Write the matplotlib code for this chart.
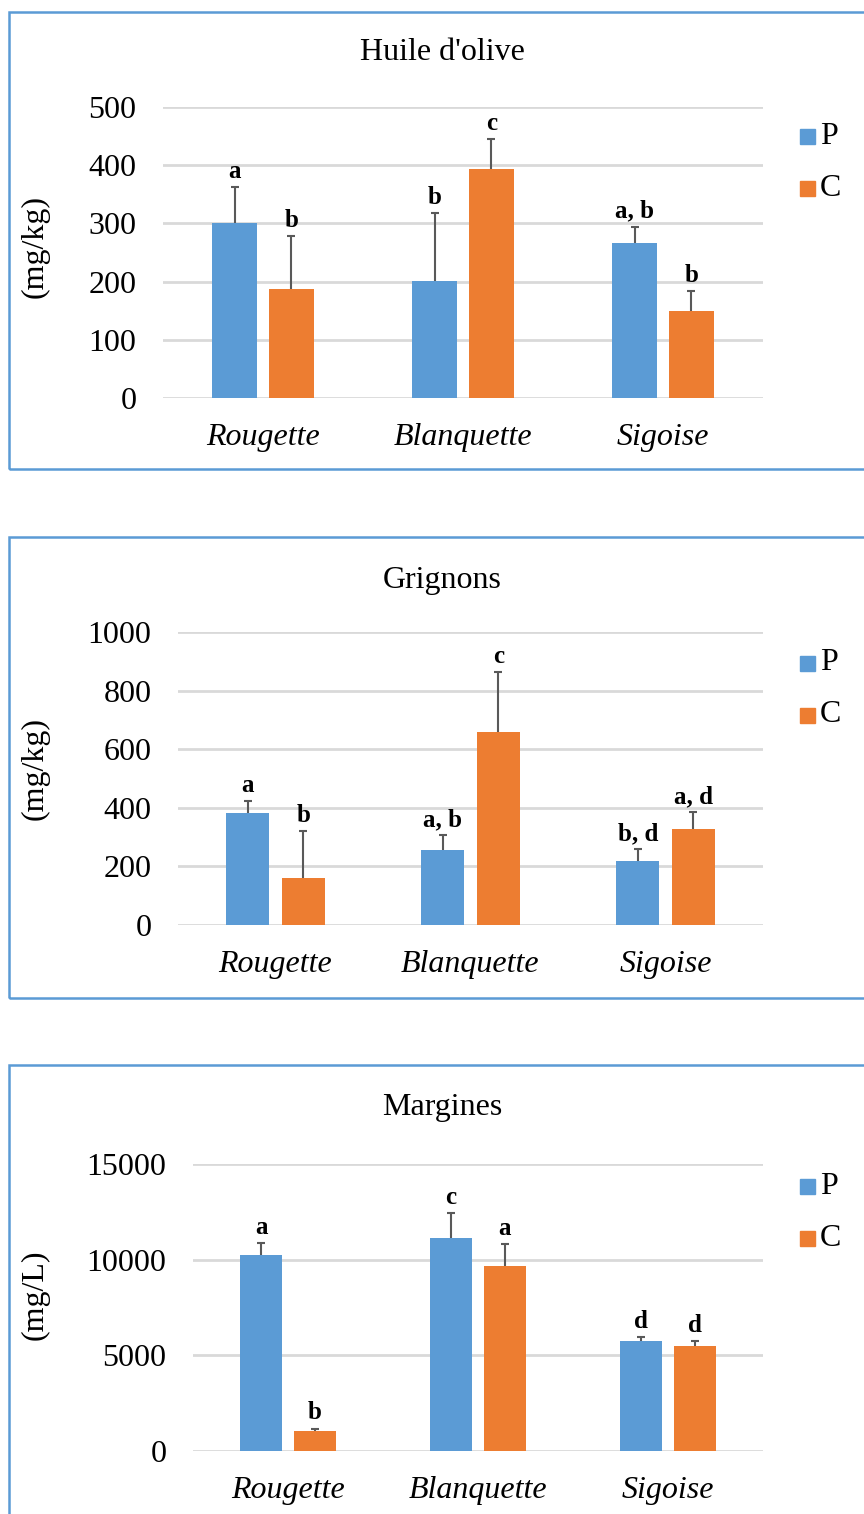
import matplotlib
matplotlib.use("Agg")
import matplotlib.pyplot as plt
from matplotlib.patches import Rectangle

W, H = 864, 1514

# Data
cultivars = ["Rougette", "Blanquette", "Sigoise"]
series = ["P", "C"]

huile_p = [300, 201, 266]
huile_c = [187, 394, 150]
huile_p_err = [62, 117, 28]
huile_c_err = [91, 51, 34]
huile_p_lab = ["a", "b", "a, b"]
huile_c_lab = ["b", "c", "b"]

grig_p = [382, 256, 218]
grig_c = [161, 658, 327]
grig_p_err = [42, 51, 40]
grig_c_err = [159, 206, 57]
grig_p_lab = ["a", "a, b", "b, d"]
grig_c_lab = ["b", "c", "a, d"]

marg_p = [10250, 11150, 5770]
marg_c = [1060, 9660, 5510]
marg_p_err = [630, 1300, 180]
marg_c_err = [110, 1170, 230]
marg_p_lab = ["a", "c", "d"]
marg_c_lab = ["b", "a", "d"]

# Style
BLUE = "#5B9BD5"
ORANGE = "#ED7D31"
GRID = "#D9D9D9"
ERR = "#595959"
FRAME = "#5B9BD5"
FS = 23

plt.rcParams["font.family"] = "Liberation Serif"

fig = plt.figure(figsize=(W / 100, H / 100), dpi=100)


def fx(x):
    return x / W


def fy(y):
    return 1 - y / H


def frame(top, bottom):
    fig.patches.append(Rectangle((fx(9), fy(bottom)), fx(900) - fx(9), fy(top) - fy(bottom),
                                 transform=fig.transFigure, fill=False,
                                 edgecolor=FRAME, linewidth=1.8, clip_on=False))


def errbars(ax, x, v, e):
    eb = ax.errorbar(x, v, yerr=[[0] * len(v), e], fmt="none", ecolor=ERR,
                     elinewidth=1.5, capsize=3, capthick=1.5, zorder=4)
    # only the upper cap, like the original
    eb.lines[1][0].set_visible(False)


def panel(left, top, bottom, ymax, step, p, c, pe, ce, pl, cl, title, ylabel,
          title_y, legend_y, ylab_y):
    ax = fig.add_axes([fx(left), fy(bottom), fx(763) - fx(left), fy(top) - fy(bottom)])
    xs = range(len(cultivars))
    off, w = 0.142, 0.222
    xp = [i - off for i in xs]
    xc = [i + off for i in xs]
    ax.bar(xp, p, width=w, color=BLUE, zorder=3)
    ax.bar(xc, c, width=w, color=ORANGE, zorder=3)
    errbars(ax, xp, p, pe)
    errbars(ax, xc, c, ce)
    for xi, v, e, t in list(zip(xp, p, pe, pl)) + list(zip(xc, c, ce, cl)):
        ax.annotate(t, (xi, v + e), xytext=(0, 3), textcoords="offset points",
                    ha="center", va="bottom", fontsize=18, fontweight="bold",
                    annotation_clip=False)
    ax.set_xlim(-0.5, 2.5)
    ax.set_ylim(0, ymax)
    ax.set_yticks(range(0, ymax + 1, step))
    ax.set_xticks(list(xs))
    ax.set_xticklabels(cultivars, fontsize=FS, style="italic")
    ax.tick_params(axis="y", labelsize=FS, length=0, pad=19)
    ax.tick_params(axis="x", length=0, pad=18)
    ax.yaxis.grid(True, color=GRID, linewidth=2, zorder=0)
    for s in ax.spines.values():
        s.set_visible(False)
    ax.set_axisbelow(True)

    fig.text(fx(442), fy(title_y), title, ha="center", va="center", fontsize=FS)
    fig.text(fx(35), fy(ylab_y), ylabel, ha="center", va="center", rotation=90,
             fontsize=FS)
    for k, (lab, col) in enumerate(zip(series, [BLUE, ORANGE])):
        yc = legend_y + k * 52
        fig.patches.append(Rectangle((fx(800), fy(yc + 8)), fx(15), 15 / H,
                                     transform=fig.transFigure, color=col))
        fig.text(fx(820), fy(yc), lab, ha="left", va="center", fontsize=FS)
    return ax


frame(12, 469)
frame(537, 998)
frame(1065, 1600)

panel(163, 107, 398, 500, 100, huile_p, huile_c, huile_p_err, huile_c_err,
      huile_p_lab, huile_c_lab, "Huile d'olive", "(mg/kg)", 53, 136, 247)
panel(178, 632, 925, 1000, 200, grig_p, grig_c, grig_p_err, grig_c_err,
      grig_p_lab, grig_c_lab, "Grignons", "(mg/kg)", 580, 663, 768)
panel(193, 1164, 1451, 15000, 5000, marg_p, marg_c, marg_p_err, marg_c_err,
      marg_p_lab, marg_c_lab, "Margines", "(mg/L)", 1108, 1186, 1295)

fig.savefig("out.png", dpi=100, facecolor="white")
